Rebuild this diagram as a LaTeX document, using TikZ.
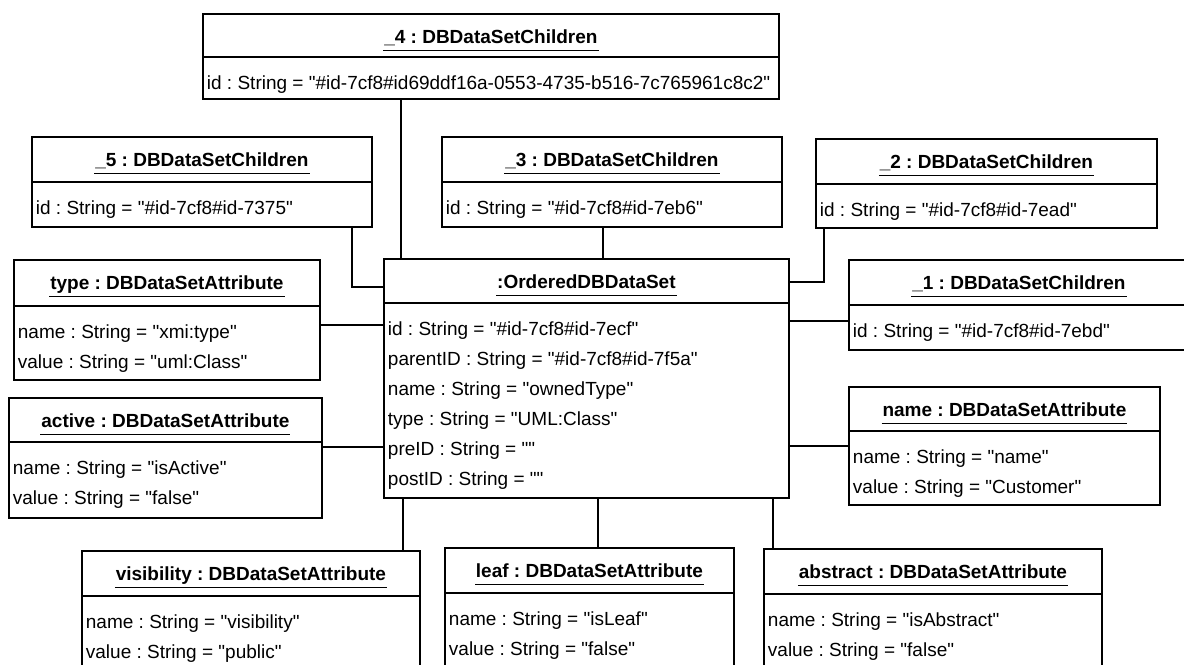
\documentclass[tikz,border=0pt]{standalone}
\usepackage{fontspec}
\setmainfont{Liberation Sans}[Ligatures=TeXOff]
\frenchspacing

\tikzset{every picture/.style={line width=1.4pt}}
\tikzset{
  objbox/.style 2 args={draw, anchor=north west, inner sep=0pt, minimum width=#1*0.75pt, minimum height=#2*0.75pt},
  objtitle/.style={anchor=base, inner sep=0pt, font=\fontsize{14.25}{17}\selectfont\bfseries},
  objline/.style={line width=1pt},
  objattr/.style={anchor=north west, inner sep=0pt, align=left, font=\fontsize{14.25}{22.5}\selectfont},
}

\begin{document}
\begin{tikzpicture}[x=0.75pt,y=0.75pt,yscale=-1,xscale=1]
\useasboundingbox (0,0) rectangle (1184,664);
\clip (0,0) rectangle (1184,664);

%Object: _4
\node [objbox={576}{85}] (c4) at (202,13) {};
\draw (c4.west |- 0,57) -- (c4.east |- 0,57) ;
% Text Node
\node [objtitle] (c4t) at (c4.north |- 0,43) {\_4 : DBDataSetChildren};
\draw [objline] ([yshift=5.5pt]c4t.base west) -- ([yshift=5.5pt]c4t.base east) ;
\node [objattr] (c4a) at (206,75) {id : String = "\#id-7cf8\#id69ddf16a-0553-4735-b516-7c765961c8c2"};

%Object: _5
\node [objbox={340}{90}] (c5) at (31,136) {};
\draw (c5.west |- 0,182) -- (c5.east |- 0,182) ;
% Text Node
\node [objtitle] (c5t) at (c5.north |- 0,166) {\_5 : DBDataSetChildren};
\draw [objline] ([yshift=5.5pt]c5t.base west) -- ([yshift=5.5pt]c5t.base east) ;
\node [objattr] (c5a) at (35,200) {id : String = "\#id-7cf8\#id-7375"};

%Object: _3
\node [objbox={340}{90}] (c3) at (441,136) {};
\draw (c3.west |- 0,182) -- (c3.east |- 0,182) ;
% Text Node
\node [objtitle] (c3t) at (c3.north |- 0,166) {\_3 : DBDataSetChildren};
\draw [objline] ([yshift=5.5pt]c3t.base west) -- ([yshift=5.5pt]c3t.base east) ;
\node [objattr] (c3a) at (445,200) {id : String = "\#id-7cf8\#id-7eb6"};

%Object: _2
\node [objbox={341}{89}] (c2) at (815,138) {};
\draw (c2.west |- 0,184) -- (c2.east |- 0,184) ;
% Text Node
\node [objtitle] (c2t) at (c2.north |- 0,168) {\_2 : DBDataSetChildren};
\draw [objline] ([yshift=5.5pt]c2t.base west) -- ([yshift=5.5pt]c2t.base east) ;
\node [objattr] (c2a) at (819,202) {id : String = "\#id-7cf8\#id-7ead"};

%Object: _1
\node [objbox={340}{90}] (c1) at (848,259) {};
\draw (c1.west |- 0,305) -- (c1.east |- 0,305) ;
% Text Node
\node [objtitle] (c1t) at (c1.north |- 0,289) {\_1 : DBDataSetChildren};
\draw [objline] ([yshift=5.5pt]c1t.base west) -- ([yshift=5.5pt]c1t.base east) ;
\node [objattr] (c1a) at (852,323) {id : String = "\#id-7cf8\#id-7ebd"};

%Object: type
\node [objbox={306}{120}] (typeA) at (13,259) {};
\draw (typeA.west |- 0,306) -- (typeA.east |- 0,306) ;
% Text Node
\node [objtitle] (typeAt) at (typeA.north |- 0,289) {type : DBDataSetAttribute};
\draw [objline] ([yshift=5.5pt]typeAt.base west) -- ([yshift=5.5pt]typeAt.base east) ;
\node [objattr] (typeAa) at (17,324) {name : String = "xmi:type"\\value : String = "uml:Class"};

%Object: active
\node [objbox={313}{120}] (activeA) at (8,397) {};
\draw (activeA.west |- 0,442) -- (activeA.east |- 0,442) ;
% Text Node
\node [objtitle] (activeAt) at (activeA.north |- 0,427) {active : DBDataSetAttribute};
\draw [objline] ([yshift=5.5pt]activeAt.base west) -- ([yshift=5.5pt]activeAt.base east) ;
\node [objattr] (activeAa) at (12,460) {name : String = "isActive"\\value : String = "false"};

%Object: OrderedDBDataSet
\node [objbox={405}{239}] (ordered) at (383,258) {};
\draw (ordered.west |- 0,303) -- (ordered.east |- 0,303) ;
% Text Node
\node [objtitle] (orderedt) at (ordered.north |- 0,288) {:OrderedDBDataSet};
\draw [objline] ([yshift=5.5pt]orderedt.base west) -- ([yshift=5.5pt]orderedt.base east) ;
\node [objattr] (ordereda) at (387,321) {id : String = "\#id-7cf8\#id-7ecf"\\parentID : String = "\#id-7cf8\#id-7f5a"\\name : String = "ownedType"\\type : String = "UML:Class"\\preID : String = ""\\postID : String = ""};

%Object: name
\node [objbox={311}{118}] (nameA) at (848,386) {};
\draw (nameA.west |- 0,431) -- (nameA.east |- 0,431) ;
% Text Node
\node [objtitle] (nameAt) at (nameA.north |- 0,416) {name : DBDataSetAttribute};
\draw [objline] ([yshift=5.5pt]nameAt.base west) -- ([yshift=5.5pt]nameAt.base east) ;
\node [objattr] (nameAa) at (852,449) {name : String = "name"\\value : String = "Customer"};

%Object: visibility
\node [objbox={338}{130}] (visA) at (81,550) {};
\draw (visA.west |- 0,596) -- (visA.east |- 0,596) ;
% Text Node
\node [objtitle] (visAt) at (visA.north |- 0,580) {visibility : DBDataSetAttribute};
\draw [objline] ([yshift=5.5pt]visAt.base west) -- ([yshift=5.5pt]visAt.base east) ;
\node [objattr] (visAa) at (85,614) {name : String = "visibility"\\value : String = "public"};

%Object: leaf
\node [objbox={289}{130}] (leafA) at (444,547) {};
\draw (leafA.west |- 0,593) -- (leafA.east |- 0,593) ;
% Text Node
\node [objtitle] (leafAt) at (leafA.north |- 0,577) {leaf : DBDataSetAttribute};
\draw [objline] ([yshift=5.5pt]leafAt.base west) -- ([yshift=5.5pt]leafAt.base east) ;
\node [objattr] (leafAa) at (448,611) {name : String = "isLeaf"\\value : String = "false"};

%Object: abstract
\node [objbox={338}{130}] (absA) at (763,548) {};
\draw (absA.west |- 0,594) -- (absA.east |- 0,594) ;
% Text Node
\node [objtitle] (absAt) at (absA.north |- 0,578) {abstract : DBDataSetAttribute};
\draw [objline] ([yshift=5.5pt]absAt.base west) -- ([yshift=5.5pt]absAt.base east) ;
\node [objattr] (absAa) at (767,612) {name : String = "isAbstract"\\value : String = "false"};

%Straight Lines
\draw (c4.south -| 401,0) -- (ordered.north -| 401,0) ;
\draw (c5.south -| 352,0) |- (ordered.west |- 0,287) ;
\draw (c3.south -| 603,0) -- (ordered.north -| 603,0) ;
\draw (c2.south -| 824,0) |- (ordered.east |- 0,282) ;
\draw (ordered.east |- 0,321) -- (c1.west |- 0,321) ;
\draw (typeA.east |- 0,325) -- (ordered.west |- 0,325) ;
\draw (activeA.east |- 0,447) -- (ordered.west |- 0,447) ;
\draw (ordered.east |- 0,446) -- (nameA.west |- 0,446) ;
\draw (ordered.south -| 403,0) -- (visA.north -| 403,0) ;
\draw (ordered.south -| 598,0) -- (leafA.north -| 598,0) ;
\draw (ordered.south -| 773,0) -- (absA.north -| 773,0) ;

\end{tikzpicture}
\end{document}
